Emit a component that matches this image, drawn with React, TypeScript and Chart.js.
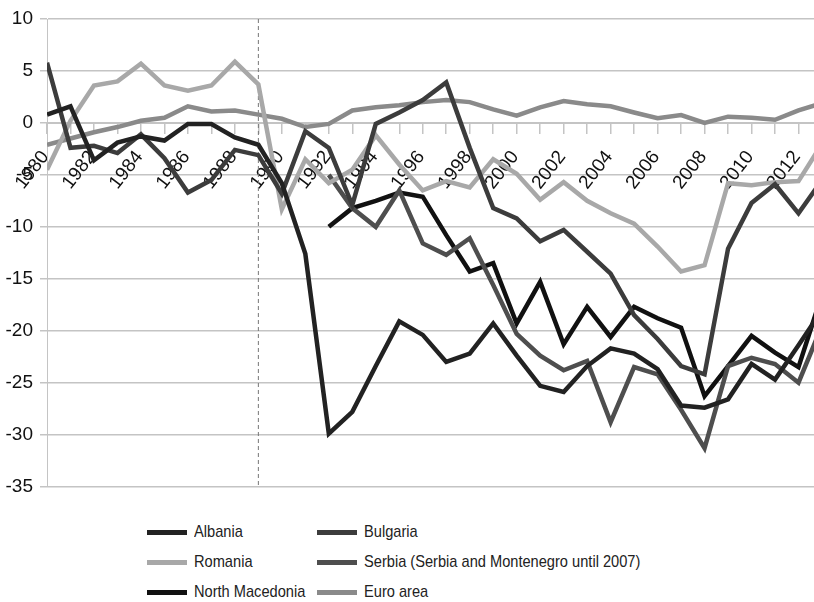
import { useEffect, useRef } from "react";
import { Chart, registerables } from "chart.js";

Chart.register(...registerables);

const years = [
  1980, 1981, 1982, 1983, 1984, 1985, 1986, 1987, 1988, 1989,
  1990, 1991, 1992, 1993, 1994, 1995, 1996, 1997, 1998, 1999,
  2000, 2001, 2002, 2003, 2004, 2005, 2006, 2007, 2008, 2009,
  2010, 2011, 2012, 2013,
];

const albania = [
  0.8, 1.6, -3.6, -1.9, -1.3, -1.7, -0.1, -0.1, -1.4, -2.1,
  -5.8, -12.6, -29.9, -27.8, -23.4, -19.1, -20.4, -23.0, -22.2, -19.3,
  -22.4, -25.3, -25.9, -23.4, -21.7, -22.2, -23.7, -27.2, -27.4, -26.6,
  -23.2, -24.7, -21.4, -18.0,
];

const bulgaria = [
  5.8, -2.4, -2.2, -2.9, -1.1, -3.4, -6.7, -5.5, -2.6, -3.1,
  -6.8, -0.8, -2.4, -7.9, -0.1, 1.0, 2.2, 3.9, -2.4, -8.2,
  -9.2, -11.4, -10.3, -12.4, -14.5, -18.5, -20.8, -23.4, -24.2, -12.1,
  -7.7, -5.9, -8.7, -5.5,
];

const romania = [
  -4.5, 0.2, 3.6, 4.0, 5.7, 3.6, 3.1, 3.6, 5.9, 3.7,
  -8.3, -3.5, -5.8, -4.5, -1.2, -4.0, -6.5, -5.6, -6.2, -3.5,
  -4.9, -7.4, -5.7, -7.5, -8.7, -9.7, -11.9, -14.3, -13.7, -5.8,
  -6.0, -5.7, -5.6, -2.0,
];

const serbia = [
  null, null, null, null, null, null, null, null, null, null,
  null, null, -5.0, -8.2, -10.0, -6.5, -11.6, -12.7, -11.1, -15.6,
  -20.3, -22.4, -23.8, -22.9, -28.8, -23.5, -24.2, -27.6, -31.3, -23.4,
  -22.6, -23.2, -25.0, -19.5,
];

const northMacedonia = [
  null, null, null, null, null, null, null, null, null, null,
  null, null, -10.0, -8.2, -7.5, -6.7, -7.1, -10.8, -14.3, -13.5,
  -19.3, -15.3, -21.3, -17.7, -20.6, -17.7, -18.8, -19.7, -26.3, -23.4,
  -20.5, -22.1, -23.5, -16.5,
];

const euroArea = [
  -2.1, -1.5, -0.9, -0.4, 0.2, 0.5, 1.6, 1.1, 1.2, 0.8,
  0.4, -0.4, -0.1, 1.2, 1.5, 1.7, 2.0, 2.2, 2.0, 1.3,
  0.7, 1.5, 2.1, 1.8, 1.6, 1.0, 0.45, 0.75, 0.0, 0.6,
  0.5, 0.3, 1.2, 1.9,
];

const seriesNames = [
  "Albania",
  "Bulgaria",
  "Romania",
  "Serbia (Serbia and Montenegro until 2007)",
  "North Macedonia",
  "Euro area",
];
const seriesValues = [albania, bulgaria, romania, serbia, northMacedonia, euroArea];
const seriesColors = ["#222222", "#3c3c3c", "#a8a8a8", "#4e4e4e", "#111111", "#8a8a8a"];

// legend order, read row by row (two columns)
const legendOrder = [0, 1, 2, 3, 4, 5];

const markerYear = 1989;
const yMin = -35;
const yMax = 10;

const FONT = "'Liberation Sans Narrow', 'Arial Narrow', 'Liberation Sans', Arial, sans-serif";

export default function App() {
  const canvasRef = useRef<HTMLCanvasElement | null>(null);
  const chartRef = useRef<Chart | null>(null);

  useEffect(() => {
    document.body.style.margin = "0";
    const ctx = canvasRef.current?.getContext("2d");
    if (!ctx) return;

    chartRef.current?.destroy();

    const datasets: any[] = seriesNames.map((name, i) => ({
      label: name,
      data: years.map((x, j) => ({ x, y: seriesValues[i][j] })),
      borderColor: seriesColors[i],
      backgroundColor: seriesColors[i],
      borderWidth: 4.5,
      pointRadius: 0,
      fill: false,
      tension: 0,
    }));

    // dashed vertical marker line
    datasets.push({
      label: "marker",
      data: [
        { x: markerYear, y: yMax },
        { x: markerYear, y: yMin },
      ],
      borderColor: "#777777",
      borderWidth: 1,
      borderDash: [4, 3],
      pointRadius: 0,
      fill: false,
    });

    chartRef.current = new Chart(ctx, {
      type: "line",
      data: { datasets },
      options: {
        animation: false,
        responsive: true,
        maintainAspectRatio: false,
        layout: { padding: { top: 19, right: 0, bottom: 16.4, left: 0 } },
        plugins: {
          legend: { display: false },
          tooltip: { enabled: false },
        },
        scales: {
          x: {
            type: "linear",
            position: { y: 0 } as any,
            min: 1980,
            max: 2012.66,
            grid: {
              drawOnChartArea: false,
              drawTicks: true,
              tickLength: 10,
              tickColor: "#c4c4c4",
              lineWidth: 1.5,
            },
            border: { color: "#c4c4c4", width: 2 },
            ticks: {
              stepSize: 1,
              includeBounds: false,
              autoSkip: false,
              minRotation: 52,
              maxRotation: 52,
              padding: 13.5,
              labelOffset: -1.5,
              color: "#111111",
              font: { family: FONT, size: 19 },
              callback: (v: any) => (Number(v) % 2 === 0 ? String(v) : ""),
            },
            afterFit: (scale: any) => {
              scale.height = 0;
              scale.paddingLeft = 0;
              scale.paddingRight = 0;
            },
          },
          y: {
            min: yMin,
            max: yMax,
            grid: {
              color: "#c4c4c4",
              lineWidth: 1.5,
              tickLength: 7,
            },
            border: { color: "#c4c4c4", width: 1 },
            ticks: {
              stepSize: 5,
              padding: 7,
              color: "#111111",
              font: { family: FONT, size: 19 },
            },
            afterFit: (scale: any) => {
              scale.width = 47;
            },
          },
        },
      },
    });

    return () => {
      chartRef.current?.destroy();
      chartRef.current = null;
    };
  }, []);

  return (
    <div style={{ position: "relative", width: 814, height: 602, background: "#fff", overflow: "hidden" }}>
      <div style={{ position: "absolute", left: 0, top: 0, width: 814, height: 505 }}>
        <canvas ref={canvasRef}></canvas>
      </div>
      <div
        style={{
          position: "absolute",
          left: 147,
          top: 517,
          display: "grid",
          gridTemplateColumns: "170px auto",
          gridAutoRows: "30px",
          fontFamily: FONT,
          fontSize: 17,
          color: "#222",
        }}
      >
        {legendOrder.map((i) => (
          <div key={seriesNames[i]} style={{ display: "flex", alignItems: "center", whiteSpace: "nowrap" }}>
            <span
              style={{
                display: "inline-block",
                width: 40,
                height: 5,
                background: seriesColors[i],
                marginRight: 7,
                flex: "none",
              }}
            ></span>
            <span style={{ display: "inline-block", transform: "scaleX(0.86)", transformOrigin: "left center" }}>
              {seriesNames[i]}
            </span>
          </div>
        ))}
      </div>
    </div>
  );
}
